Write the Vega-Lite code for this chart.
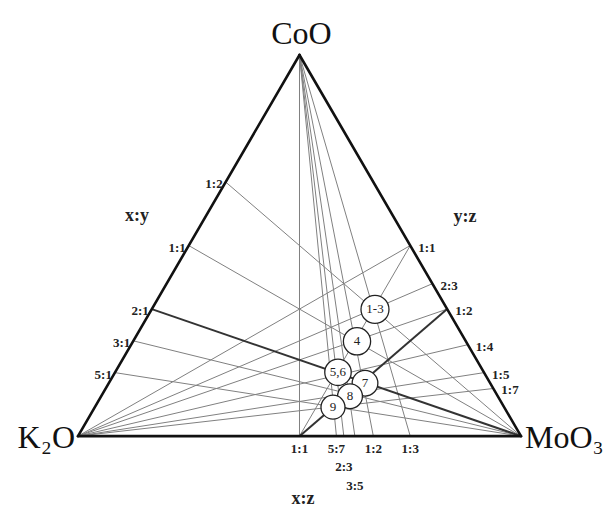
{
  "$schema": "https://vega.github.io/schema/vega-lite/v6.json",
  "width": 616,
  "height": 509,
  "autosize": {"type": "fit", "contains": "padding"},
  "padding": 0,
  "background": "white",
  "config": {"view": {"stroke": null}},
  "datasets": {
    "ties": [
      {"from": "MoO3", "to": "x:y 1:2", "u": 1, "v": 0, "u2": 0.33333, "v2": 0.57735},
      {"from": "MoO3", "to": "x:y 1:1", "u": 1, "v": 0, "u2": 0.25, "v2": 0.43301},
      {"from": "MoO3", "to": "x:y 3:1", "u": 1, "v": 0, "u2": 0.125, "v2": 0.21651},
      {"from": "MoO3", "to": "x:y 5:1", "u": 1, "v": 0, "u2": 0.08333, "v2": 0.14434},
      {"from": "K2O", "to": "y:z 1:1", "u": 0, "v": 0, "u2": 0.75, "v2": 0.43301},
      {"from": "K2O", "to": "y:z 2:3", "u": 0, "v": 0, "u2": 0.8, "v2": 0.34641},
      {"from": "K2O", "to": "y:z 1:2", "u": 0, "v": 0, "u2": 0.83333, "v2": 0.28868},
      {"from": "K2O", "to": "y:z 1:4", "u": 0, "v": 0, "u2": 0.88, "v2": 0.20785},
      {"from": "K2O", "to": "y:z 1:5", "u": 0, "v": 0, "u2": 0.91667, "v2": 0.14434},
      {"from": "K2O", "to": "y:z 1:7", "u": 0, "v": 0, "u2": 0.9375, "v2": 0.10825},
      {"from": "CoO", "to": "x:z 1:1", "u": 0.5, "v": 0.86603, "u2": 0.5, "v2": 0},
      {"from": "CoO", "to": "x:z 5:7", "u": 0.5, "v": 0.86603, "u2": 0.58333, "v2": 0},
      {"from": "CoO", "to": "x:z 2:3", "u": 0.5, "v": 0.86603, "u2": 0.6, "v2": 0},
      {"from": "CoO", "to": "x:z 3:5", "u": 0.5, "v": 0.86603, "u2": 0.625, "v2": 0},
      {"from": "CoO", "to": "x:z 1:2", "u": 0.5, "v": 0.86603, "u2": 0.66667, "v2": 0},
      {"from": "CoO", "to": "x:z 1:3", "u": 0.5, "v": 0.86603, "u2": 0.75, "v2": 0},
      {"from": "x:z 1:1", "to": "y:z 1:1", "u": 0.5, "v": 0, "u2": 0.75, "v2": 0.43301}
    ],
    "thick": [
      {"from": "x:z 1:1", "to": "y:z 1:2", "u": 0.5, "v": 0, "u2": 0.83333, "v2": 0.28868},
      {"from": "x:y 2:1", "to": "MoO3", "u": 0.16667, "v": 0.28868, "u2": 1, "v2": 0}
    ],
    "sides": [
      {"side": "K2O-MoO3", "u": 0, "v": 0, "u2": 1, "v2": 0},
      {"side": "MoO3-CoO", "u": 1, "v": 0, "u2": 0.5, "v2": 0.86603},
      {"side": "CoO-K2O", "u": 0.5, "v": 0.86603, "u2": 0, "v2": 0}
    ],
    "phases": [
      {"label": "1-3", "u": 0.6704, "v": 0.2880},
      {"label": "4", "u": 0.6298, "v": 0.2154},
      {"label": "5,6", "u": 0.5869, "v": 0.1451},
      {"label": "7", "u": 0.6479, "v": 0.1202},
      {"label": "8", "u": 0.6140, "v": 0.0907},
      {"label": "9", "u": 0.5756, "v": 0.0658}
    ],
    "leftLabels": [
      {"label": "1:2", "u": 0.33333, "v": 0.57735},
      {"label": "1:1", "u": 0.25, "v": 0.43301},
      {"label": "2:1", "u": 0.16667, "v": 0.28868},
      {"label": "3:1", "u": 0.125, "v": 0.21651},
      {"label": "5:1", "u": 0.08333, "v": 0.14434}
    ],
    "rightLabels": [
      {"label": "1:1", "u": 0.75, "v": 0.43301},
      {"label": "2:3", "u": 0.8, "v": 0.34641},
      {"label": "1:2", "u": 0.83333, "v": 0.28868},
      {"label": "1:4", "u": 0.88, "v": 0.20785},
      {"label": "1:5", "u": 0.91667, "v": 0.14434},
      {"label": "1:7", "u": 0.9375, "v": 0.10825}
    ],
    "bottomLabels": [
      {"label": "1:1", "u": 0.5, "v": 0, "row": 1},
      {"label": "5:7", "u": 0.58333, "v": 0, "row": 1},
      {"label": "2:3", "u": 0.6, "v": 0, "row": 2},
      {"label": "3:5", "u": 0.625, "v": 0, "row": 3},
      {"label": "1:2", "u": 0.66667, "v": 0, "row": 1},
      {"label": "1:3", "u": 0.75, "v": 0, "row": 1}
    ],
    "vertices": [
      {"name": "CoO", "u": 0.5, "v": 0.86603},
      {"name": "K₂O", "u": 0, "v": 0},
      {"name": "MoO₃", "u": 1, "v": 0}
    ],
    "titles": [
      {"label": "x:y", "u": 0.1332, "v": 0.5011},
      {"label": "y:z", "u": 0.8736, "v": 0.4989},
      {"label": "x:z", "u": 0.5079, "v": -0.1429}
    ]
  },
  "encoding": {
    "x": {"field": "u", "type": "quantitative", "scale": {"domain": [-0.17607, 1.21445], "nice": false, "zero": false}, "axis": null},
    "y": {"field": "v", "type": "quantitative", "scale": {"domain": [-0.16327, 0.99093], "nice": false, "zero": false}, "axis": null}
  },
  "layer": [
    {
      "data": {"name": "ties"},
      "mark": {"type": "rule", "stroke": "#808080", "strokeWidth": 1},
      "encoding": {"x2": {"field": "u2"}, "y2": {"field": "v2"}}
    },
    {
      "data": {"name": "thick"},
      "mark": {"type": "rule", "stroke": "#333333", "strokeWidth": 2},
      "encoding": {"x2": {"field": "u2"}, "y2": {"field": "v2"}}
    },
    {
      "data": {"name": "sides"},
      "mark": {"type": "rule", "stroke": "#111111", "strokeWidth": 2.6, "strokeCap": "round"},
      "encoding": {"x2": {"field": "u2"}, "y2": {"field": "v2"}}
    },
    {
      "data": {"name": "phases"},
      "mark": {"type": "point", "shape": "circle", "filled": false, "fill": "white", "fillOpacity": 1, "stroke": "#222222", "strokeWidth": 1.3, "opacity": 1},
      "encoding": {
        "size": {"field": "label", "type": "nominal", "scale": {"domain": ["1-3", "4", "5,6", "7", "8", "9"], "range": [784, 576, 676, 484, 324, 400]}, "legend": null}
      }
    },
    {
      "data": {"name": "phases"},
      "mark": {"type": "text", "font": "Liberation Serif", "fontSize": 13, "fill": "#222222", "align": "center", "baseline": "middle"},
      "encoding": {"text": {"field": "label"}}
    },
    {
      "data": {"name": "leftLabels"},
      "mark": {"type": "text", "font": "Liberation Serif", "fontWeight": "bold", "fontSize": 13, "fill": "#222222", "align": "right", "baseline": "middle", "dx": -3, "dy": 2},
      "encoding": {"text": {"field": "label"}}
    },
    {
      "data": {"name": "rightLabels"},
      "mark": {"type": "text", "font": "Liberation Serif", "fontWeight": "bold", "fontSize": 13, "fill": "#222222", "align": "left", "baseline": "middle", "dx": 8, "dy": 2},
      "encoding": {"text": {"field": "label"}}
    },
    {
      "data": {"name": "bottomLabels"},
      "transform": [{"filter": "datum.row == 1"}],
      "mark": {"type": "text", "font": "Liberation Serif", "fontWeight": "bold", "fontSize": 13, "fill": "#222222", "align": "center", "baseline": "middle", "dy": 13},
      "encoding": {"text": {"field": "label"}}
    },
    {
      "data": {"name": "bottomLabels"},
      "transform": [{"filter": "datum.row == 2"}],
      "mark": {"type": "text", "font": "Liberation Serif", "fontWeight": "bold", "fontSize": 13, "fill": "#222222", "align": "center", "baseline": "middle", "dy": 31},
      "encoding": {"text": {"field": "label"}}
    },
    {
      "data": {"name": "bottomLabels"},
      "transform": [{"filter": "datum.row == 3"}],
      "mark": {"type": "text", "font": "Liberation Serif", "fontWeight": "bold", "fontSize": 13, "fill": "#222222", "align": "center", "baseline": "middle", "dy": 50},
      "encoding": {"text": {"field": "label"}}
    },
    {
      "data": {"name": "vertices"},
      "transform": [{"filter": "datum.name == 'CoO'"}],
      "mark": {"type": "text", "font": "Liberation Serif", "fontSize": 32, "fill": "#111111", "align": "center", "baseline": "alphabetic", "dx": 2, "dy": -11},
      "encoding": {"text": {"field": "name"}}
    },
    {
      "data": {"name": "vertices"},
      "transform": [{"filter": "datum.name == 'K₂O'"}],
      "mark": {"type": "text", "font": "Liberation Serif", "fontSize": 32, "fill": "#111111", "align": "right", "baseline": "middle", "dx": -3, "dy": 2},
      "encoding": {"text": {"field": "name"}}
    },
    {
      "data": {"name": "vertices"},
      "transform": [{"filter": "datum.name == 'MoO₃'"}],
      "mark": {"type": "text", "font": "Liberation Serif", "fontSize": 32, "fill": "#111111", "align": "left", "baseline": "middle", "dx": 4, "dy": 2},
      "encoding": {"text": {"field": "name"}}
    },
    {
      "data": {"name": "titles"},
      "mark": {"type": "text", "font": "Liberation Serif", "fontWeight": "bold", "fontSize": 18, "fill": "#222222", "align": "center", "baseline": "middle"},
      "encoding": {"text": {"field": "label"}}
    }
  ]
}
